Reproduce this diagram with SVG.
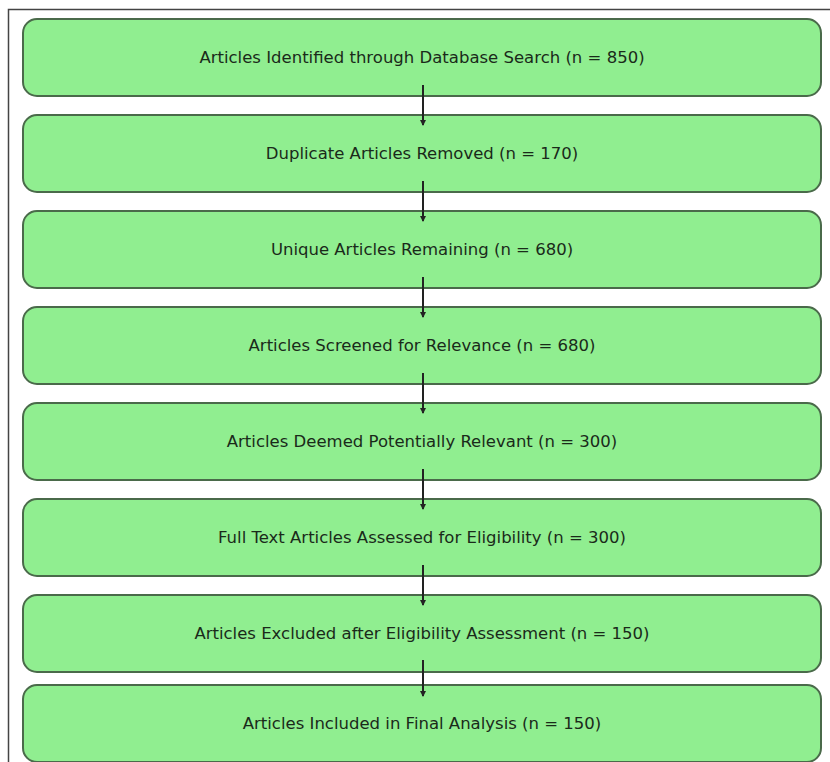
<svg xmlns="http://www.w3.org/2000/svg" width="830" height="762" viewBox="0 0 830 762">
<defs>
<style>
.box{fill:#90ee90;stroke:#4a6a4a;stroke-width:2}
.lbl{font-family:"DejaVu Sans",sans-serif;font-size:16.5px;fill:#1a2a1a;text-anchor:middle}
.arr{stroke:#222;stroke-width:2;fill:none;marker-end:url(#ah)}
.frame{stroke:#444;stroke-width:1.5;fill:none}
</style>
<marker id="ah" viewBox="0 0 6 6" refX="5" refY="3" markerWidth="3" markerHeight="3" orient="auto" markerUnits="strokeWidth">
<path d="M0,0 L6,3 L0,6 Z" fill="#222"/>
</marker>
</defs>
<rect width="830" height="762" fill="#ffffff"/>
<path class="frame" d="M8.5,762 L8.5,9.5 L830,9.5"/>
<g id="n1"><rect class="box" x="23" y="19" width="798" height="77" rx="14"/><text class="lbl" x="422" y="63">Articles Identified through Database Search (n = 850)</text></g>
<g id="n2"><rect class="box" x="23" y="115" width="798" height="77" rx="14"/><text class="lbl" x="422" y="159">Duplicate Articles Removed (n = 170)</text></g>
<g id="n3"><rect class="box" x="23" y="211" width="798" height="77" rx="14"/><text class="lbl" x="422" y="255">Unique Articles Remaining (n = 680)</text></g>
<g id="n4"><rect class="box" x="23" y="307" width="798" height="77" rx="14"/><text class="lbl" x="422" y="351">Articles Screened for Relevance (n = 680)</text></g>
<g id="n5"><rect class="box" x="23" y="403" width="798" height="77" rx="14"/><text class="lbl" x="422" y="447">Articles Deemed Potentially Relevant (n = 300)</text></g>
<g id="n6"><rect class="box" x="23" y="499" width="798" height="77" rx="14"/><text class="lbl" x="422" y="543">Full Text Articles Assessed for Eligibility (n = 300)</text></g>
<g id="n7"><rect class="box" x="23" y="595" width="798" height="77" rx="14"/><text class="lbl" x="422" y="639">Articles Excluded after Eligibility Assessment (n = 150)</text></g>
<g id="n8"><rect class="box" x="23" y="685" width="798" height="77" rx="14"/><text class="lbl" x="422" y="729">Articles Included in Final Analysis (n = 150)</text></g>
<g id="connectors">
<line class="arr" x1="423" y1="85" x2="423" y2="125"/>
<line class="arr" x1="423" y1="181" x2="423" y2="221"/>
<line class="arr" x1="423" y1="277" x2="423" y2="317"/>
<line class="arr" x1="423" y1="373" x2="423" y2="413"/>
<line class="arr" x1="423" y1="469" x2="423" y2="509"/>
<line class="arr" x1="423" y1="565" x2="423" y2="605"/>
<line class="arr" x1="423" y1="660" x2="423" y2="696"/>
</g>
</svg>
